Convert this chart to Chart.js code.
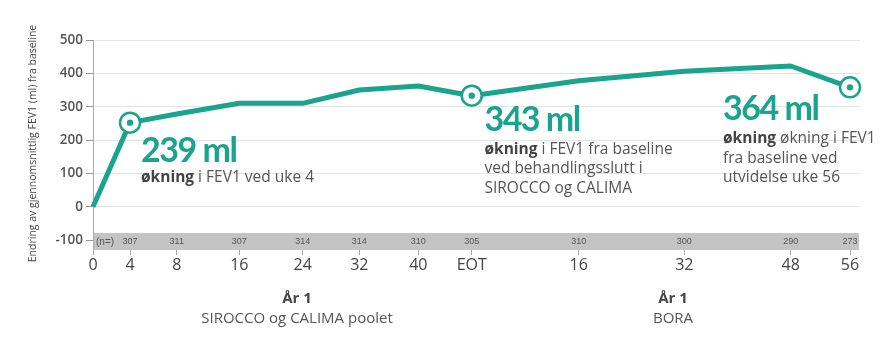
<!DOCTYPE html>
<html>
<head>
<meta charset="utf-8">
<script src="https://cdn.jsdelivr.net/npm/chart.js@4/dist/chart.umd.min.js"></script>
<style>
html,body{margin:0;padding:0;background:#fff;}
#wrap{width:896px;height:356px;}
</style>
</head>
<body>
<div id="wrap"><canvas id="c" width="896" height="356"></canvas></div>
<script>
// ---- data ----
const weekLabels  = ['0','4','8','16','24','32','40','EOT','16','32','48','56'];
// position of each visit on the (non-uniform) study timeline axis, in axis units
const timelinePos = [0, 4.89, 11.06, 19.33, 27.7, 35.18, 42.97, 50.03, 64.16, 78.11, 92.17, 100];
const fev1Change  = [0, 252, 278, 310, 310, 350, 362, 333, 378, 406, 422, 358];
const nPatients   = [null, 307, 311, 307, 314, 314, 310, 305, 310, 300, 290, 273];
const highlighted = [1, 7, 11];
const yTicks      = [-100, 0, 100, 200, 300, 400, 500];
const yTitle      = 'Endring av gjennomsnittlig FEV1 (ml) fra baseline';
const calloutIndex = [1, 7, 11];
const calloutBig   = ['239 ml', '343 ml', '364 ml'];
const calloutLines = [
  [[['økning', true], [' i FEV1 ved uke 4', false]]],
  [[['økning', true], [' i FEV1 fra baseline', false]], [['ved behandlingsslutt i', false]], [['SIROCCO og CALIMA', false]]],
  [[['økning', true], [' økning i FEV1', false]], [['fra baseline ved', false]], [['utvidelse uke 56', false]]]
];
const groupTitles = ['År 1', 'År 1'];
const groupNames  = ['SIROCCO og CALIMA poolet', 'BORA'];

// ---- style / layout ----
const TEAL = '#1aa38d';
const calloutLayout = [
  {dx: 11,   bigDy: 39,   lineDy: 59.5},
  {dx: 12.7, bigDy: 35.3, lineDy: 58.3},
  {dx: -127, bigDy: 32.7, lineDy: 56}
];
const groupCenters = [297, 673];

const points = timelinePos.map((x, i) => ({x, y: fev1Change[i]}));

const overlay = {
  id: 'overlay',
  beforeDatasetsDraw(chart) {
    const {ctx, chartArea: a, scales: {x, y}} = chart;
    const top = y.getPixelForValue(-100) - 7;
    ctx.save();
    ctx.fillStyle = '#c4c4c4';
    ctx.fillRect(a.left + 1, top, a.right - a.left - 2, a.bottom - top);
    const mid = (top + a.bottom) / 2 + 0.5;
    ctx.fillStyle = '#555';
    ctx.textBaseline = 'middle';
    ctx.font = '10px "Liberation Sans Narrow", "Liberation Sans", sans-serif';
    ctx.textAlign = 'left';
    ctx.fillText('(n=)', a.left + 3, mid);
    ctx.font = '9px "Liberation Sans Narrow", "Liberation Sans", sans-serif';
    ctx.textAlign = 'center';
    nPatients.forEach((n, i) => {
      if (n != null) ctx.fillText(String(n), x.getPixelForValue(timelinePos[i]), mid);
    });
    ctx.restore();
  },
  afterDatasetsDraw(chart) {
    const {ctx} = chart;
    const meta = chart.getDatasetMeta(0).data;
    ctx.save();
    calloutIndex.forEach((idx, k) => {
      const p = meta[idx];
      const L = calloutLayout[k];
      const x0 = p.x + L.dx;
      ctx.textAlign = 'left';
      ctx.textBaseline = 'alphabetic';
      ctx.fillStyle = TEAL;
      ctx.font = 'bold 34px Lato, "Open Sans", sans-serif';
      if ('letterSpacing' in ctx) ctx.letterSpacing = '-1.5px';
      ctx.fillText(calloutBig[k], x0, p.y + L.bigDy);
      if ('letterSpacing' in ctx) ctx.letterSpacing = '0px';
      calloutLines[k].forEach((line, li) => {
        let cx = x0;
        const by = p.y + L.lineDy + li * 19.5;
        line.forEach(([txt, bold]) => {
          ctx.font = (bold ? 'bold ' : '') + '15.5px "Open Sans", sans-serif';
          ctx.fillStyle = bold ? '#444' : '#555';
          ctx.fillText(txt, cx, by);
          cx += ctx.measureText(txt).width;
        });
      });
    });
    // group labels under the axis
    ctx.textAlign = 'center';
    ctx.textBaseline = 'middle';
    groupCenters.forEach((cx, i) => {
      ctx.font = 'bold 15px "Open Sans", sans-serif';
      ctx.fillStyle = '#444';
      ctx.fillText(groupTitles[i], cx, 299);
      ctx.font = '15px "Open Sans", sans-serif';
      ctx.fillStyle = '#555';
      ctx.fillText(groupNames[i], cx, 319);
    });
    // y axis title
    ctx.save();
    ctx.translate(33, 143.5);
    ctx.rotate(-Math.PI / 2);
    ctx.font = '10.5px "Open Sans", sans-serif';
    ctx.fillStyle = '#444';
    ctx.fillText(yTitle, 0, 0);
    ctx.restore();
    ctx.restore();
  }
};

new Chart(document.getElementById('c'), {
  type: 'line',
  data: {
    datasets: [
      {
        data: points,
        order: 1,
        borderColor: TEAL,
        borderWidth: 5,
        tension: 0,
        borderJoinStyle: 'round',
        clip: false,
        pointRadius: c => highlighted.includes(c.dataIndex) ? 10 : 0,
        pointHoverRadius: c => highlighted.includes(c.dataIndex) ? 10 : 0,
        pointBackgroundColor: '#fff',
        pointBorderColor: TEAL,
        pointBorderWidth: 2.5
      },
      {
        data: points,
        order: 0,
        showLine: false,
        clip: false,
        pointRadius: c => highlighted.includes(c.dataIndex) ? 3.2 : 0,
        pointHoverRadius: c => highlighted.includes(c.dataIndex) ? 3.2 : 0,
        pointBackgroundColor: TEAL,
        pointBorderColor: TEAL,
        pointBorderWidth: 0
      }
    ]
  },
  options: {
    responsive: false,
    animation: false,
    events: [],
    layout: {padding: {left: 0, right: 36, top: 40, bottom: 0}},
    plugins: {legend: {display: false}, tooltip: {enabled: false}, title: {display: false}},
    scales: {
      x: {
        type: 'linear',
        min: 0,
        max: 101.32,
        afterBuildTicks: s => { s.ticks = timelinePos.map(v => ({value: v})); },
        afterFit: s => { s.height = 106; },
        ticks: {
          autoSkip: false,
          maxRotation: 0,
          padding: 1,
          color: '#444',
          font: {family: '"Open Sans", sans-serif', size: 16},
          callback: (v, i) => weekLabels[i]
        },
        grid: {drawOnChartArea: false, drawTicks: true, tickLength: 5, color: '#aaa'},
        border: {display: false}
      },
      y: {
        min: -130,
        max: 500,
        afterBuildTicks: s => { s.ticks = yTicks.map(v => ({value: v})); },
        afterFit: s => { s.width = 93; },
        ticks: {
          padding: 3,
          color: '#555',
          font: {family: '"Open Sans", sans-serif', size: 13.5, weight: '600'}
        },
        grid: {color: '#e4e4e4', tickColor: '#999', tickLength: 7},
        border: {display: true, color: '#aaa'}
      }
    }
  },
  plugins: [overlay]
});
</script>
</body>
</html>
